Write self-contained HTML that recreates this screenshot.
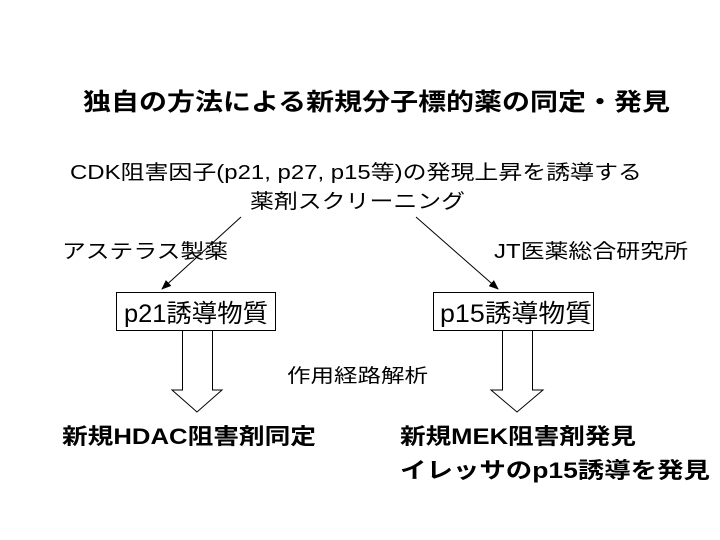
<!DOCTYPE html>
<html><head><meta charset="utf-8"><style>
html,body{margin:0;padding:0;background:#fff;}
svg{display:block;}
text{font-family:"Liberation Sans","Noto Sans CJK JP",sans-serif;fill:#000;}
</style></head><body>
<svg width="720" height="540" viewBox="0 0 720 540" xmlns="http://www.w3.org/2000/svg">
<defs><marker id="a" markerWidth="10" markerHeight="8" refX="9" refY="4" orient="auto" markerUnits="userSpaceOnUse"><path d="M0,0 L10,4 L0,8 z" fill="#000"/></marker></defs>
<text x="83" y="110" font-size="24" font-weight="bold" textLength="587" lengthAdjust="spacingAndGlyphs">独自の方法による新規分子標的薬の同定・発見</text>
<text x="70" y="179" font-size="20" textLength="572" lengthAdjust="spacingAndGlyphs">CDK阻害因子(p21, p27, p15等)の発現上昇を誘導する</text>
<text x="250" y="208" font-size="20" textLength="215" lengthAdjust="spacingAndGlyphs">薬剤スクリーニング</text>
<line x1="241" y1="217" x2="162" y2="289" stroke="#000" stroke-width="1" marker-end="url(#a)"/>
<line x1="416" y1="217" x2="498" y2="289" stroke="#000" stroke-width="1" marker-end="url(#a)"/>
<text x="62" y="258" font-size="20" textLength="166" lengthAdjust="spacingAndGlyphs">アステラス製薬</text>
<text x="494" y="258" font-size="20" textLength="194" lengthAdjust="spacingAndGlyphs">JT医薬総合研究所</text>
<rect x="116.5" y="292.5" width="159" height="38" fill="#fff" stroke="#000"/>
<rect x="433.5" y="292.5" width="160" height="38" fill="#fff" stroke="#000"/>
<text x="124" y="322" font-size="25" textLength="144" lengthAdjust="spacingAndGlyphs">p21誘導物質</text>
<text x="440" y="322" font-size="25" textLength="152" lengthAdjust="spacingAndGlyphs">p15誘導物質</text>
<path d="M182.5,331 V390 H172 L197,412 L222,390 H212.5 V331" fill="#fff" stroke="#000"/>
<path d="M502.5,331 V390 H491 L517,412 L543,390 H532.5 V331" fill="#fff" stroke="#000"/>
<text x="287" y="382" font-size="19" textLength="141" lengthAdjust="spacingAndGlyphs">作用経路解析</text>
<text x="62" y="444" font-size="22" font-weight="bold" textLength="254" lengthAdjust="spacingAndGlyphs">新規HDAC阻害剤同定</text>
<text x="400" y="444" font-size="22" font-weight="bold" textLength="236" lengthAdjust="spacingAndGlyphs">新規MEK阻害剤発見</text>
<text x="400" y="478" font-size="22" font-weight="bold" textLength="310" lengthAdjust="spacingAndGlyphs">イレッサのp15誘導を発見</text>
</svg>
</body></html>
